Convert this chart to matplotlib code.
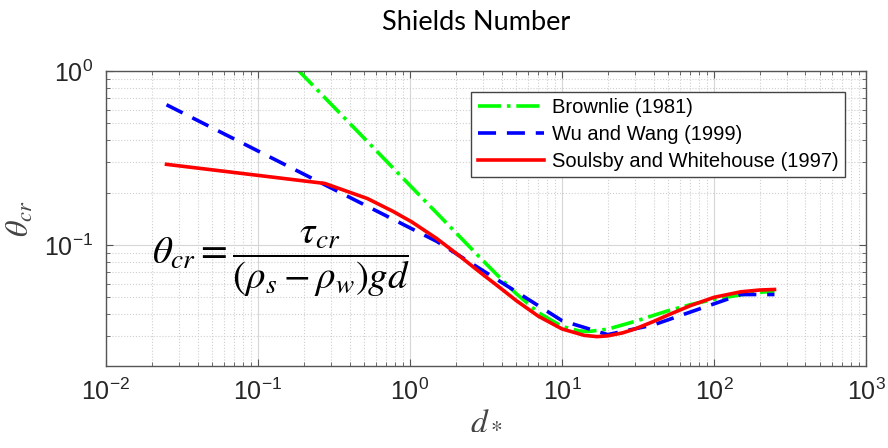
import matplotlib
matplotlib.use("Agg")
import matplotlib.pyplot as plt
from matplotlib.ticker import LogLocator, NullFormatter

plt.rcParams['font.family'] = ['Liberation Sans', 'DejaVu Sans']
plt.rcParams['mathtext.fontset'] = 'stix'

# valores
d_brownlie = [0.18, 0.275, 0.525, 1, 2, 3, 4, 5, 7, 10, 13, 15, 20, 30, 50, 70, 100, 150, 200, 250]
th_brownlie = [1.03, 0.703, 0.393, 0.220, 0.118, 0.0819, 0.0636, 0.0526, 0.0409, 0.0341, 0.0321,
               0.0319, 0.0329, 0.0364, 0.0420, 0.0455, 0.0488, 0.0518, 0.0535, 0.0545]

d_wuwang = [0.025, 1.5, 10, 20, 40, 150, 250]
th_wuwang = [0.64, 0.105, 0.0368, 0.0306, 0.0348, 0.052, 0.052]

d_soulsby = [0.025, 0.275, 0.525, 0.775, 1.025, 1.5, 2, 3, 4, 5, 7, 10, 14, 17, 20, 25, 30,
             40, 50, 70, 100, 150, 200, 250]
th_soulsby = [0.291, 0.226, 0.185, 0.156, 0.136, 0.109, 0.090, 0.068, 0.056, 0.048, 0.039, 0.033,
              0.0303, 0.0298, 0.0301, 0.0313, 0.0329, 0.0364, 0.0397, 0.0449, 0.0501, 0.0539,
              0.0552, 0.0556]

etiquetas = ['Brownlie (1981)', 'Wu and Wang (1999)', 'Soulsby and Whitehouse (1997)']

fig = plt.figure(figsize=(8.88, 4.48), dpi=100)
ax = fig.add_axes([0.1194, 0.183, 0.8558, 0.6585])

ax.plot(d_brownlie, th_brownlie, color='#00ff00', linestyle='-.', linewidth=2.6, label=etiquetas[0])
ax.plot(d_wuwang, th_wuwang, color='#0000ff', linestyle=(0, (5, 3)), linewidth=2.6, label=etiquetas[1])
ax.plot(d_soulsby, th_soulsby, color='#ff0000', linestyle='-', linewidth=2.6, label=etiquetas[2])

ax.set_xscale('log')
ax.set_yscale('log')
ax.set_xlim(1e-2, 1e3)
ax.set_ylim(0.0202, 1)

ax.xaxis.set_major_locator(LogLocator(base=10, numticks=10))
ax.xaxis.set_minor_locator(LogLocator(base=10, subs=range(2, 10), numticks=20))
ax.yaxis.set_minor_locator(LogLocator(base=10, subs=range(2, 10), numticks=20))
ax.xaxis.set_minor_formatter(NullFormatter())
ax.yaxis.set_minor_formatter(NullFormatter())

ax.grid(True, which='major', color='#d6d6d6', linestyle='-', linewidth=0.8)
ax.grid(True, which='minor', color='#cfcfcf', linestyle=':', linewidth=0.8)
ax.set_axisbelow(True)

ax.tick_params(which='both', direction='in', top=True, right=True, colors='#555555',
               labelcolor='#262626')
ax.tick_params(which='major', length=5, labelsize=18, pad=9)
ax.tick_params(which='minor', length=3)
for s in ax.spines.values():
    s.set_color('#555555')
    s.set_linewidth(1.0)

ax.set_xlabel(r'$d_*$', fontsize=24, labelpad=0, color='#444444')
ax.set_ylabel(r'$\theta_{cr}$', fontsize=23, labelpad=6, color='#444444')

fig.text(476 / 888, 1 - 22 / 448, 'Shields Number', family=['Lato', 'DejaVu Sans'],
         fontsize=19.5, ha='center', va='center')

ax.text(152 / 888, 1 - 262 / 448,
        r'$\theta_{cr} = \dfrac{\tau_{cr}}{(\rho_s - \rho_w)gd}$',
        transform=fig.transFigure, fontsize=28, ha='left', va='center')

leg = ax.legend(loc='upper right', bbox_to_anchor=(0.972, 0.93), fontsize=14.5,
                frameon=True, fancybox=False, edgecolor='#444444', framealpha=1,
                handlelength=3.3, handletextpad=0.4, borderpad=0.3, labelspacing=0.4,
                borderaxespad=0)
leg.get_frame().set_linewidth(1.0)

fig.savefig('out.png', dpi=100)
